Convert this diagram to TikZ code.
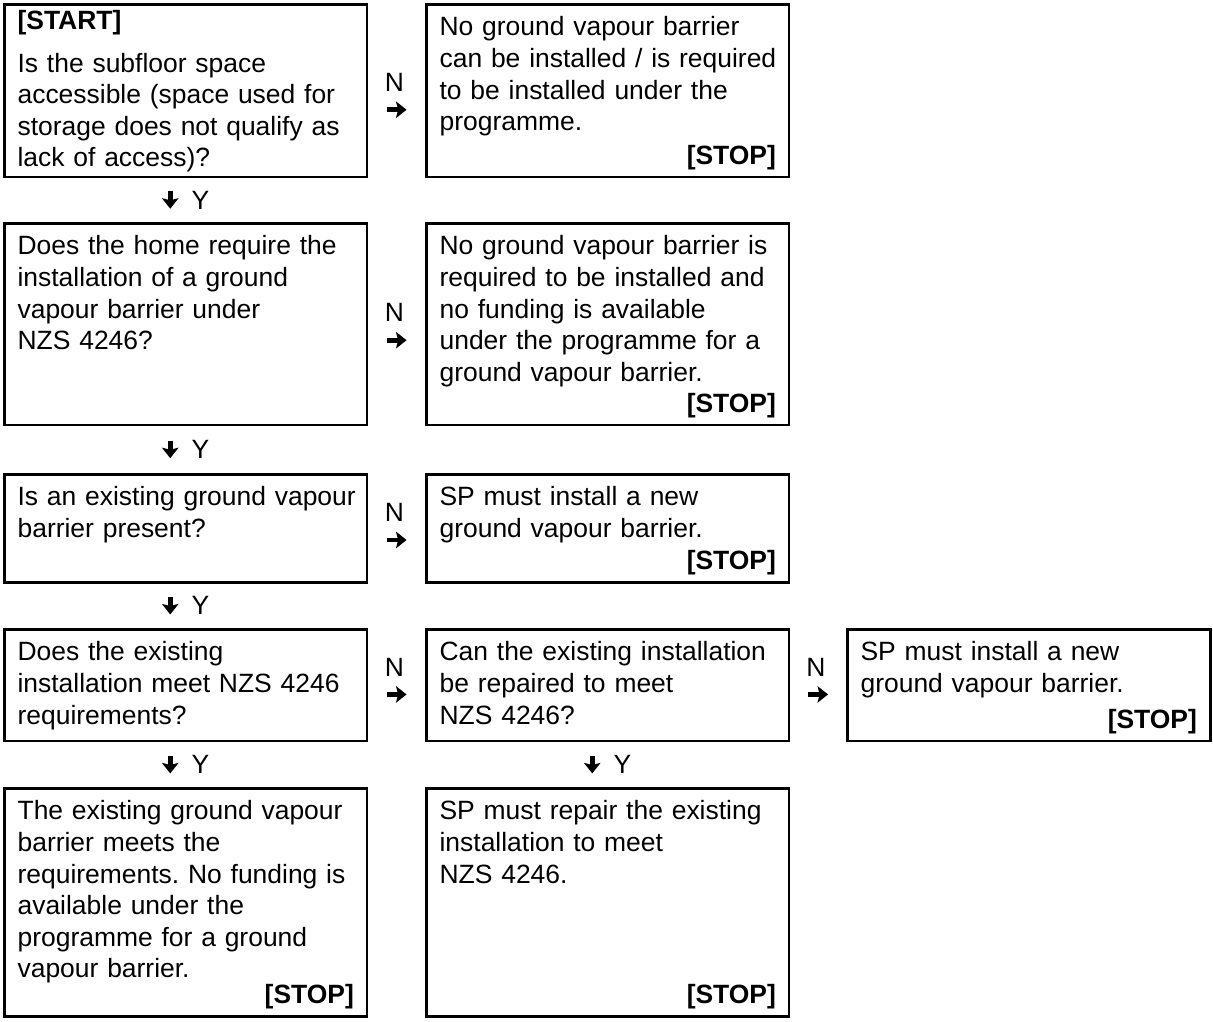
\documentclass[tikz,border=0pt]{standalone}
\usepackage{fontspec}
\setmainfont{Liberation Sans}
\usetikzlibrary{calc,arrows.meta}

\newcommand{\chartfont}{\fontsize{11.6}{13.86}\selectfont}
\frenchspacing

\begin{document}
\begin{tikzpicture}[
  x=0.4386pt,y=-0.4386pt,
  box/.style={rectangle,draw=black,line width=1.1pt,anchor=north west,inner sep=0pt,minimum width=159.2pt},
  body/.style={anchor=north west,inner xsep=6.2pt,inner ysep=4.5pt,text width=156pt,align=left,font=\chartfont,execute at begin node=\strut},
  stop/.style={anchor=base east,inner sep=0pt,xshift=-6.2pt,yshift=6pt,font=\chartfont\bfseries},
  lbl/.style={inner sep=0pt,font=\chartfont},
  glyph/.style={line width=2pt,-{Stealth[length=4.6pt,width=7.2pt,inset=0.9pt]}}
]

\useasboundingbox (0,0) rectangle (1213,1021);

\def\nlink#1#2#3{
  \coordinate (#1#2) at ($(#1.east)!0.5!(#2.west)+(0,#3)$);
  \node[lbl] (#1#2-n) at ([xshift=-1pt,yshift=6pt]#1#2) {N};
  \draw[glyph] ([xshift=-4.3pt,yshift=-6pt]#1#2) -- ([xshift=4.3pt,yshift=-6pt]#1#2);
}
\def\ylink#1#2{
  \coordinate (#1#2) at ($(#1.south)!0.5!(#2.north)$);
  \draw[glyph] ([xshift=-6.8pt,yshift=3.8pt]#1#2) -- ([xshift=-6.8pt,yshift=-3.8pt]#1#2);
  \node[lbl] (#1#2-y) at ([xshift=6.4pt]#1#2) {Y};
}

\node[box,minimum height=75.7pt] (q1) at (3,3) {};
\node[box,minimum height=75.7pt] (s1) at (425,3) {};
\node[box,minimum height=88.4pt] (q2) at (3,222) {};
\node[box,minimum height=88.4pt] (s2) at (425,222) {};
\node[box,minimum height=47.4pt] (q3) at (3,473) {};
\node[box,minimum height=47.4pt] (s3) at (425,473) {};
\node[box,minimum height=49.1pt] (q4) at (3,628) {};
\node[box,minimum height=49.1pt] (q5) at (425,628) {};
\node[box,minimum height=49.1pt] (s4) at (846,628) {};
\node[box,minimum height=100pt] (s5) at (3,787) {};
\node[box,minimum height=100pt] (s6) at (425,787) {};

\node[body,yshift=3pt] (q1-t) at (q1.north west) {\textbf{[START]}\\[5pt]Is the subfloor space\\accessible (space used for\\storage does not qualify as\\lack of access)?};
\node[body] (s1-t) at (s1.north west) {No ground vapour barrier\\can be installed / is required\\to be installed under the\\programme.};
\node[body] (q2-t) at (q2.north west) {Does the home require the\\installation of a ground\\vapour barrier under\\NZS~4246?};
\node[body] (s2-t) at (s2.north west) {No ground vapour barrier is\\required to be installed and\\no funding is available\\under the programme for a\\ground vapour barrier.};
\node[body] (q3-t) at (q3.north west) {Is an existing ground vapour\\barrier present?};
\node[body] (s3-t) at (s3.north west) {SP must install a new\\ground vapour barrier.};
\node[body] (q4-t) at (q4.north west) {Does the existing\\installation meet NZS~4246\\requirements?};
\node[body] (q5-t) at (q5.north west) {Can the existing installation\\be repaired to meet\\NZS~4246?};
\node[body] (s4-t) at (s4.north west) {SP must install a new\\ground vapour barrier.};
\node[body] (s5-t) at (s5.north west) {The existing ground vapour\\barrier meets the\\requirements. No funding is\\available under the\\programme for a ground\\vapour barrier.};
\node[body] (s6-t) at (s6.north west) {SP must repair the existing\\installation to meet\\NZS~4246.};

\foreach \b in {s1,s2,s3,s4,s5,s6}
  \node[stop] (\b-stop) at (\b.south east) {[STOP]};

\nlink{q1}{s1}{5.5}
\nlink{q2}{s2}{2.5}
\nlink{q3}{s3}{-2}
\nlink{q4}{q5}{-4.5}
\nlink{q5}{s4}{-4.5}

\ylink{q1}{q2}
\ylink{q2}{q3}
\ylink{q3}{q4}
\ylink{q4}{s5}
\ylink{q5}{s6}

\end{tikzpicture}
\end{document}
